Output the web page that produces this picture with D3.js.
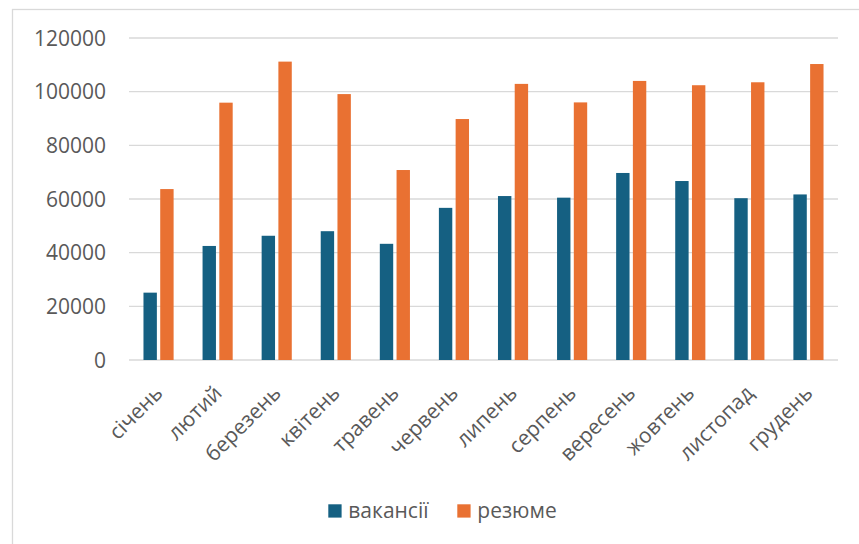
<!DOCTYPE html>
<html>
<head>
<meta charset="utf-8">
<script src="https://cdn.jsdelivr.net/npm/d3@7"></script>
<style>
  body { margin: 0; background: #fff; }
  text { font-family: "Open Sans", "Liberation Sans", sans-serif; fill: #595959; }
</style>
</head>
<body>
<div id="chart"></div>
<script>
const months = ['січень', 'лютий', 'березень', 'квітень', 'травень', 'червень',
  'липень', 'серпень', 'вересень', 'жовтень', 'листопад', 'грудень'];
const seriesNames = ['вакансії', 'резюме'];
const vacancies = [25100, 42500, 46300, 48000, 43300, 56700, 61100, 60500, 69700, 66700, 60300, 61700];
const resumes = [63700, 95900, 111200, 99100, 70800, 89800, 102900, 96000, 104000, 102400, 103500, 110300];
const yTicks = [0, 20000, 40000, 60000, 80000, 100000, 120000];
const colors = ['#156082', '#E97132'];

const width = 859, height = 544;
const plot = { left: 129, right: 838, top: 38, bottom: 360 };

const svg = d3.select('#chart')
  .append('svg')
  .attr('width', width)
  .attr('height', height);

// chart frame, runs past the window on right and bottom
svg.append('rect')
  .attr('x', 12.5).attr('y', 9.5)
  .attr('width', width + 10).attr('height', height + 10)
  .attr('fill', 'none')
  .attr('stroke', '#d9d9d9')
  .attr('stroke-width', 1.3);

const y = d3.scaleLinear().domain([0, 120000]).range([plot.bottom, plot.top]);

const x0 = d3.scaleBand()
  .domain(months)
  .range([plot.left, plot.right])
  .paddingInner(0.49)
  .paddingOuter(0.245);

const x1 = d3.scaleBand()
  .domain(seriesNames)
  .range([0, x0.bandwidth()])
  .paddingInner(0.2);

// gridlines
svg.append('g')
  .selectAll('line')
  .data(yTicks)
  .enter()
    .append('line')
    .attr('x1', plot.left).attr('x2', plot.right)
    .attr('y1', d => y(d)).attr('y2', d => y(d))
    .attr('stroke', '#d9d9d9')
    .attr('stroke-width', 1.3);

// y labels
svg.append('g')
  .selectAll('text')
  .data(yTicks)
  .enter()
    .append('text')
    .attr('x', 106)
    .attr('y', d => y(d))
    .attr('dy', '0.36em')
    .attr('text-anchor', 'end')
    .style('font-size', '21px')
    .text(d => d);

// bars
const rows = months.map((m, i) => ({ month: m, values: [vacancies[i], resumes[i]] }));
const groups = svg.append('g')
  .selectAll('g')
  .data(rows)
  .enter()
    .append('g')
    .attr('transform', d => `translate(${x0(d.month)},0)`);

groups.selectAll('rect')
  .data(d => d.values.map((v, k) => ({ name: seriesNames[k], value: v, k })))
  .enter()
    .append('rect')
    .attr('x', d => x1(d.name))
    .attr('y', d => y(d.value))
    .attr('width', x1.bandwidth())
    .attr('height', d => y(0) - y(d.value))
    .attr('fill', d => colors[d.k]);

// x labels, rotated
svg.append('g')
  .selectAll('text')
  .data(months)
  .enter()
    .append('text')
    .attr('transform', d => `translate(${x0(d) + x0.bandwidth() / 2 + 1},390) rotate(-45)`)
    .attr('text-anchor', 'end')
    .attr('dy', '0.3em')
    .style('font-size', '21px')
    .text(d => d);

// legend
const legendX = [328.3, 457.3];
const legend = svg.append('g')
  .selectAll('g')
  .data(seriesNames)
  .enter()
    .append('g')
    .attr('transform', (d, i) => `translate(${legendX[i]},504.3)`);

legend.append('rect')
  .attr('width', 13.3).attr('height', 13.3)
  .attr('fill', (d, i) => colors[i]);

legend.append('text')
  .attr('x', 20)
  .attr('y', 6.7)
  .attr('dy', '0.33em')
  .style('font-size', '21px')
  .text(d => d);
</script>
</body>
</html>
